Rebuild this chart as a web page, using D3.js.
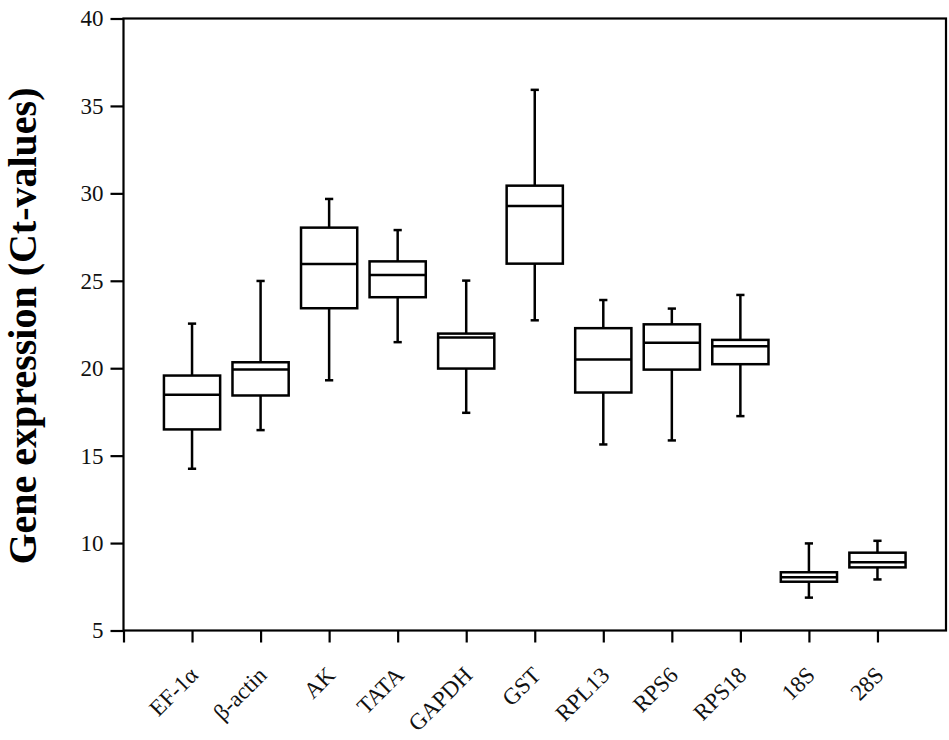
<!DOCTYPE html>
<meta charset="utf-8">
<script src="https://d3js.org/d3.v7.min.js"></script>
<title>Gene expression box plot</title>
<style>
body { margin: 0; background: #fff; }
svg { font-family: "Liberation Serif", "DejaVu Serif", serif; }
</style>
<svg width="949" height="740"></svg>
<script>

// reference genes and their Ct-value box summaries
var genes   = ["EF-1\u03b1", "\u03b2-actin", "AK", "TATA", "GAPDH", "GST", "RPL13", "RPS6", "RPS18", "18S", "28S"];
var whiskLo = [14.25, 16.46, 19.31, 21.49, 17.45, 22.74, 15.64, 15.87, 17.26, 6.88, 7.92];
var q1      = [16.50, 18.44, 23.43, 24.06, 19.98, 25.98, 18.61, 19.92, 20.23, 7.79, 8.61];
var median  = [18.48, 19.92, 25.96, 25.33, 21.75, 29.28, 20.50, 21.45, 21.26, 8.04, 8.91];
var q3      = [19.58, 20.34, 28.04, 26.11, 21.98, 30.44, 22.29, 22.51, 21.62, 8.33, 9.45];
var whiskHi = [22.55, 24.99, 29.68, 27.90, 25.01, 35.92, 23.90, 23.41, 24.19, 9.98, 10.13];
var yTicks  = [5, 10, 15, 20, 25, 30, 35, 40];

var svg = d3.select("svg");
var mLeft = 123.5, mRight = 946, mTop = 18.5, mBottom = 630.5;

var x = d3.scaleLinear().domain([0, 12]).range([mLeft, mRight]);
var y = d3.scaleLinear().domain([5, 40]).range([mBottom, mTop]);

var boxW = 0.82, capW = 0.12;

var data = genes.map((g, i) => ({
  name: g, pos: i + 1,
  lo: whiskLo[i], q1: q1[i], med: median[i], q3: q3[i], hi: whiskHi[i]
}));

// frame
svg.append("rect")
    .attr("x", mLeft).attr("y", mTop)
    .attr("width", mRight - mLeft).attr("height", mBottom - mTop)
    .attr("fill", "none").attr("stroke", "#000").attr("stroke-width", 2.2);

// y axis
var yAxis = svg.append("g")
    .attr("transform", "translate(" + mLeft + ",0)")
    .call(d3.axisLeft(y).tickValues(yTicks).tickSize(13).tickPadding(7));
yAxis.select(".domain").remove();
yAxis.selectAll("line").attr("stroke-width", 2.2);
yAxis.selectAll("text").attr("font-size", 23).attr("font-family", "Liberation Serif").attr("fill", "#111");

// x axis
var xAxis = svg.append("g")
    .attr("transform", "translate(0," + mBottom + ")")
    .call(d3.axisBottom(x).tickValues(d3.range(0, 12)).tickSize(12)
      .tickFormat(d => d === 0 ? "" : genes[d - 1]));
xAxis.select(".domain").remove();
xAxis.selectAll("line").attr("stroke-width", 2.2);
xAxis.selectAll("text")
    .attr("font-size", 23).attr("font-family", "Liberation Serif").attr("fill", "#111")
    .attr("text-anchor", "end")
    .attr("x", 0).attr("y", 0).attr("dy", 0)
    .attr("transform", "translate(7,46) rotate(-45)");

// boxes
var g = svg.append("g").attr("stroke", "#000").attr("stroke-width", 2.5).attr("fill", "none");

var box = g.selectAll("g").data(data).join("g");

box.append("line")
    .attr("x1", d => x(d.pos)).attr("x2", d => x(d.pos))
    .attr("y1", d => y(d.hi)).attr("y2", d => y(d.q3));
box.append("line")
    .attr("x1", d => x(d.pos)).attr("x2", d => x(d.pos))
    .attr("y1", d => y(d.q1)).attr("y2", d => y(d.lo));
box.append("line")
    .attr("x1", d => x(d.pos - capW / 2)).attr("x2", d => x(d.pos + capW / 2))
    .attr("y1", d => y(d.hi)).attr("y2", d => y(d.hi));
box.append("line")
    .attr("x1", d => x(d.pos - capW / 2)).attr("x2", d => x(d.pos + capW / 2))
    .attr("y1", d => y(d.lo)).attr("y2", d => y(d.lo));
box.append("rect")
    .attr("x", d => x(d.pos - boxW / 2))
    .attr("width", d => x(d.pos + boxW / 2) - x(d.pos - boxW / 2))
    .attr("y", d => y(d.q3))
    .attr("height", d => y(d.q1) - y(d.q3));
box.append("line")
    .attr("x1", d => x(d.pos - boxW / 2)).attr("x2", d => x(d.pos + boxW / 2))
    .attr("y1", d => y(d.med)).attr("y2", d => y(d.med));

// y title
svg.append("text")
    .attr("transform", "translate(36,326) rotate(-90)")
    .attr("text-anchor", "middle")
    .attr("font-size", 40)
    .attr("font-weight", "bold")
    .attr("font-family", "Liberation Serif")
    .text("Gene expression (Ct-values)");
</script>
